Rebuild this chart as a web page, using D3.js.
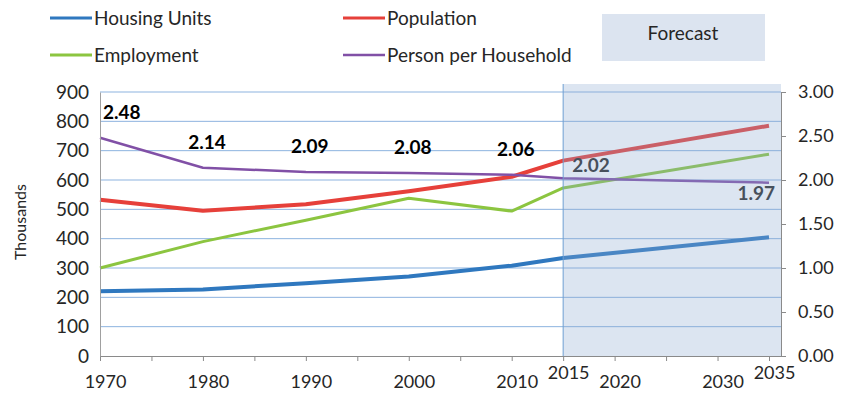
<!DOCTYPE html>
<html lang="en">
<head>
<meta charset="utf-8">
<title>Housing, Population, Employment forecast</title>
<style>
  body { margin: 0; background: #fff; }
  svg { display: block; }
  svg text { font-family: Lato, "Open Sans", Arial, sans-serif; fill: #262626; }
  .tick text { font-size: 18px; }
  .legendText { font-size: 19px; }
  .pphLabel { font-size: 19px; font-weight: bold; fill: #000; }
</style>
</head>
<body>
<div id="chart"></div>
<script src="https://cdn.jsdelivr.net/npm/d3@7"></script>
<script>

var years = [1970, 1980, 1990, 2000, 2010, 2015, 2035];
var housingUnits = [221, 227, 248, 271, 308, 334, 405];
var population = [533, 495, 517, 562, 611, 666, 785];
var employment = [300, 390, 463, 538, 494, 573, 688];
var personPerHousehold = [2.48, 2.14, 2.09, 2.08, 2.06, 2.02, 1.97];

var tickYears = d3.range(1970, 2036, 5);
var labelYears = [1970, 1980, 1990, 2000, 2010, 2015, 2020, 2030, 2035];
var raisedYears = [2015, 2035];
var forecastStart = 2015;

var seriesNames = ["Housing Units", "Population", "Employment", "Person per Household"];
var colors = ["#2f78bf", "#e6403a", "#8cc540", "#8150a6"];
var widths = [4, 4, 3, 2.5];
// where each PPH value label sits relative to its point
var labelPlace = ["start", "above", "above", "above", "above", "right", "below"];

var W = 845, H = 393;
var plotL = 100, plotR = 781, plotT = 92, plotB = 356, shadeT = 84;

var svg = d3.select("#chart").append("svg")
    .attr("width", W).attr("height", H);

var x = d3.scaleLinear().domain([1970, 2035]).range([plotL, 769]);
var yL = d3.scaleLinear().domain([0, 900]).range([plotB, plotT]);
var yR = d3.scaleLinear().domain([0, 3]).range([plotB, plotT]);

// gridlines
svg.append("g").selectAll("line")
    .data(d3.range(100, 901, 100))
    .enter().append("line")
    .attr("x1", plotL).attr("x2", plotR)
    .attr("y1", function(d){ return yL(d); })
    .attr("y2", function(d){ return yL(d); })
    .attr("stroke", "#8db3df").attr("stroke-width", 1);

// series lines
var series = [
  {vals: housingUnits, scale: yL},
  {vals: population, scale: yL},
  {vals: employment, scale: yL},
  {vals: personPerHousehold, scale: yR}
];

series.forEach(function(s, i){
  var line = d3.line()
      .x(function(d, j){ return x(years[j]); })
      .y(function(d){ return s.scale(d); });
  svg.append("path")
     .attr("d", line(s.vals))
     .attr("fill", "none")
     .attr("stroke", colors[i])
     .attr("stroke-width", widths[i])
     .attr("stroke-linejoin", "round");
});

// person per household labels
svg.append("g").selectAll("text")
    .data(personPerHousehold)
    .enter().append("text")
    .attr("class", "pphLabel")
    .text(function(d){ return d.toFixed(2); })
    .attr("x", function(d, i){
      var px = x(years[i]);
      if (labelPlace[i] == "start") return px + 3;
      if (labelPlace[i] == "right") return px + 9;
      if (labelPlace[i] == "below") return px + 6;
      return px + 4;
    })
    .attr("y", function(d, i){
      var py = yR(d);
      if (labelPlace[i] == "right") return py - 6;
      if (labelPlace[i] == "below") return py + 17;
      return py - 19;
    })
    .attr("text-anchor", function(d, i){
      if (labelPlace[i] == "start" || labelPlace[i] == "right") return "start";
      if (labelPlace[i] == "below") return "end";
      return "middle";
    })
    .style("fill", function(d, i){ return years[i] >= forecastStart ? "#2a2a2a" : "#000"; });

// forecast shading laid over the lines
svg.append("rect")
   .attr("x", x(forecastStart)).attr("y", shadeT)
   .attr("width", plotR - x(forecastStart)).attr("height", plotB - shadeT)
   .attr("fill", "rgb(140,168,208)").attr("fill-opacity", 0.3);

svg.append("line")
   .attr("x1", x(forecastStart)).attr("x2", x(forecastStart))
   .attr("y1", shadeT).attr("y2", plotB)
   .attr("stroke", "#6f9fd2").attr("stroke-width", 1);

// x axis
var xAxis = svg.append("g")
    .attr("transform", "translate(0," + plotB + ")")
    .call(d3.axisBottom(x)
      .tickValues(tickYears)
      .tickSize(5)
      .tickSizeOuter(0)
      .tickFormat(function(d){ return labelYears.indexOf(d) >= 0 ? d : ""; }));
xAxis.select(".domain").attr("stroke", "#8a8a8a").attr("d", "M" + plotL + ",0.5H" + plotR);
xAxis.selectAll(".tick line").attr("stroke", "#8a8a8a");
xAxis.selectAll(".tick text")
    .attr("dx", 5)
    .attr("dy", null)
    .attr("y", function(d){ return raisedYears.indexOf(d) >= 0 ? 23 : 32; })
    .style("fill", "#262626");

// left axis
var yAxisL = svg.append("g")
    .attr("transform", "translate(" + plotL + ",0)")
    .call(d3.axisLeft(yL).tickValues(d3.range(0, 901, 100)).tickSize(0).tickPadding(11));
yAxisL.select(".domain").attr("stroke", "#a0a0a0");
yAxisL.selectAll(".tick text").style("font-size", "19px").style("fill", "#262626");

// right axis
var yAxisR = svg.append("g")
    .attr("transform", "translate(" + plotR + ",0)")
    .call(d3.axisRight(yR).tickValues(d3.range(0, 3.01, 0.5)).tickFormat(d3.format(".2f"))
      .tickSize(5).tickSizeOuter(0).tickPadding(12));
yAxisR.select(".domain").attr("stroke", "#8a8a8a");
yAxisR.selectAll(".tick line").attr("stroke", "#8a8a8a");
yAxisR.selectAll(".tick text").style("fill", "#262626");

svg.append("text")
   .text("Thousands")
   .attr("transform", "translate(26,222) rotate(-90)")
   .attr("text-anchor", "middle")
   .style("font-size", "16px");

// legend
var legendX = [50, 343], legendY = [18, 55];
seriesNames.forEach(function(name, i){
  var lx = legendX[i % 2], ly = legendY[Math.floor(i / 2)];
  svg.append("line")
     .attr("x1", lx).attr("x2", lx + 42)
     .attr("y1", ly).attr("y2", ly)
     .attr("stroke", colors[i]).attr("stroke-width", i == 3 ? 2.5 : 3);
  svg.append("text")
     .attr("class", "legendText")
     .attr("x", lx + 44).attr("y", ly + 7)
     .text(name);
});

svg.append("rect")
   .attr("x", 602).attr("y", 14).attr("width", 163).attr("height", 47)
   .attr("fill", "#dce4f0");
svg.append("text")
   .attr("class", "legendText")
   .attr("x", 683).attr("y", 40)
   .attr("text-anchor", "middle")
   .text("Forecast");

</script>
</body>
</html>
